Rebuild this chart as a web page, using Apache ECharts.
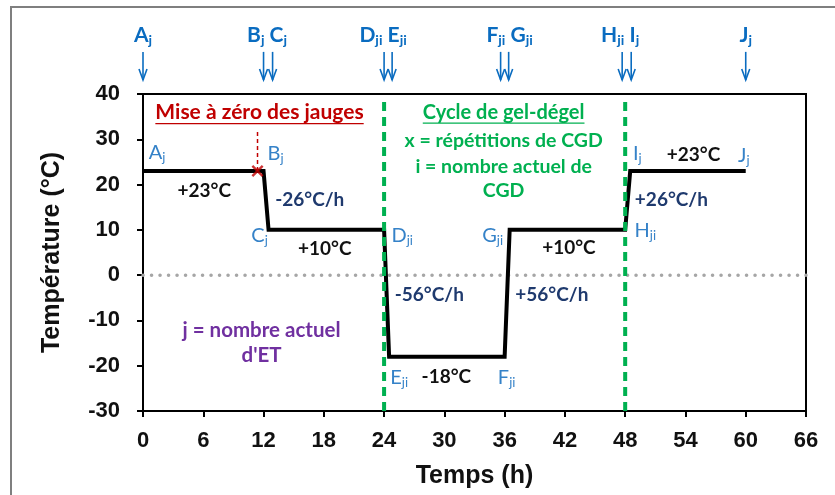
<!DOCTYPE html>
<html><head><meta charset="utf-8">
<script src="https://cdn.jsdelivr.net/npm/echarts@6/dist/echarts.min.js"></script>
<style>html,body{margin:0;padding:0;background:#fff}#c{width:835px;height:495px}</style>
</head><body><div id="c"></div>
<script>
// ---- data ----
const hours = [0, 12, 12.5, 24, 24.5, 36, 36.5, 48, 48.5, 60];
const temps = [23, 23, 10, 10, -18, -18, 10, 10, 23, 23];
const pointNames = ['A', 'B', 'C', 'D', 'E', 'F', 'G', 'H', 'I', 'J'];
const pointSubs = ['j', 'j', 'j', 'ji', 'ji', 'ji', 'ji', 'ji', 'j', 'j'];
const arrowHours = [0, 12, 12.9, 24, 24.8, 35.6, 36.4, 47.7, 48.6, 60];
const gaugeZeroHour = 11.4;
const gaugeZeroTemp = 23;
const gaugeZeroTop = 31.6;
const cycleBounds = [24, 48];
const plateauLabels = ['+23°C', '+10°C', '-18°C', '+10°C', '+23°C'];
const rateLabels = ['-26°C/h', '-56°C/h', '+56°C/h', '+26°C/h'];
const xTicks = [0, 6, 12, 18, 24, 30, 36, 42, 48, 54, 60, 66];
const yTicks = [-30, -20, -10, 0, 10, 20, 30, 40];

// ---- layout / styles ----
const FONT_ANN = 'Lato, "Open Sans", sans-serif';
const FONT_AX = '"Liberation Sans", Arial, sans-serif';
const BLUE_TOP = '#0a6cc0';
const BLUE_PT = '#3582c8';
const NAVY = '#1f3a6e';
const GREEN = '#00b050';
const RED = '#c00000';
const PURPLE = '#7030a0';

const chart = echarts.init(document.getElementById('c'));
const axisCommon = {
  type: 'value',
  axisLine: { show: true, onZero: false, lineStyle: { color: '#000', width: 2 } },
  axisTick: { show: true, inside: false, length: 6, lineStyle: { color: '#000', width: 2 } },
  splitLine: { show: false },
  axisLabel: { color: '#111', fontFamily: FONT_AX, fontWeight: 'bold', fontSize: 22 },
  nameTextStyle: { color: '#111', fontFamily: FONT_AX, fontWeight: 'bold', fontSize: 25 }
};
chart.setOption({
  animation: false,
  grid: { left: 143, right: 29, top: 94, bottom: 84, show: true, borderColor: '#000', borderWidth: 2, backgroundColor: 'transparent' },
  xAxis: Object.assign({}, axisCommon, {
    min: xTicks[0], max: xTicks[xTicks.length - 1], interval: xTicks[1] - xTicks[0],
    name: 'Temps (h)', nameLocation: 'middle', nameGap: 53,
    axisLabel: Object.assign({}, axisCommon.axisLabel, { margin: 19 })
  }),
  yAxis: Object.assign({}, axisCommon, {
    min: yTicks[0], max: yTicks[yTicks.length - 1], interval: yTicks[1] - yTicks[0],
    name: 'Température (°C)', nameLocation: 'middle', nameGap: 78,
    axisLabel: Object.assign({}, axisCommon.axisLabel, { margin: 23 })
  }),
  series: [
    { type: 'line', name: 'zero', data: [[xTicks[0], 0], [xTicks[xTicks.length - 1], 0]], symbol: 'none', z: 1,
      lineStyle: { color: '#a6a6a6', width: 3.5, type: [0.1, 8.4], cap: 'round' } },
    { type: 'line', name: 'temp', data: hours.map((h, i) => [h, temps[i]]), symbol: 'none', z: 3,
      lineStyle: { color: '#000', width: 4, join: 'miter' } },
    { type: 'line', name: 'gauge', data: [[gaugeZeroHour, gaugeZeroTemp], [gaugeZeroHour, gaugeZeroTop]], symbol: 'none', z: 4,
      lineStyle: { color: RED, width: 1.5, type: [4, 3] } },
    { type: 'scatter', name: 'gaugeMark', data: [[gaugeZeroHour, gaugeZeroTemp]], z: 6,
      symbol: 'path://M0,1.4L1.4,0L5,3.6L8.6,0L10,1.4L6.4,5L10,8.6L8.6,10L5,6.4L1.4,10L0,8.6L3.6,5Z',
      symbolSize: 12, itemStyle: { color: RED } },
    ...cycleBounds.map(b => ({ type: 'line', data: [[b, yTicks[0]], [b, 38.6]], symbol: 'none', z: 5,
      lineStyle: { color: GREEN, width: 4, type: [9, 6] } }))
  ]
});

function P(x, y) { return chart.convertToPixel({ gridIndex: 0 }, [x, y]); }
const mctx = document.createElement('canvas').getContext('2d');
function textW(font, t) { mctx.font = font; return mctx.measureText(t).width; }

const g = [];
// outer frame
g.push({ type: 'rect', shape: { x: 11, y: 7, width: 1200, height: 1200 }, style: { fill: 'none', stroke: '#7f7f7f', lineWidth: 2 }, z: 0 });

function subText(text, x, y, color, size, subSize, weight) {
  return {
    type: 'text', x: x, y: y, z: 20,
    style: {
      text: text, align: 'center', verticalAlign: 'middle', fill: color,
      rich: {
        m: { fill: color, fontFamily: FONT_ANN, fontWeight: weight, fontSize: size, lineHeight: size + 4, verticalAlign: 'middle' },
        s: { fill: color, fontFamily: FONT_ANN, fontWeight: weight, fontSize: subSize, lineHeight: subSize, verticalAlign: 'bottom' }
      }
    }
  };
}
function plain(text, x, y, color, size, underline) {
  g.push({ type: 'text', x: x, y: y, z: 20,
    style: { text: text, align: 'center', verticalAlign: 'middle', fill: color, fontFamily: FONT_ANN, fontWeight: 'bold', fontSize: size } });
  if (underline) {
    const w = textW('bold ' + size + 'px ' + FONT_ANN, text);
    g.push({ type: 'line', z: 20, shape: { x1: x - w / 2, y1: y + size * 0.55, x2: x + w / 2, y2: y + size * 0.55 }, style: { stroke: color, lineWidth: 1.4 } });
  }
}

// top arrows
arrowHours.forEach(h => {
  const a = P(h, 49.3), b = P(h, 43.1);
  g.push({ type: 'line', z: 20, shape: { x1: a[0], y1: a[1], x2: b[0], y2: b[1] }, style: { stroke: BLUE_TOP, lineWidth: 1.6 } });
  g.push({ type: 'polyline', z: 20, shape: { points: [[b[0] - 4, b[1] - 11], [b[0], b[1]], [b[0] + 4, b[1] - 11]] }, style: { stroke: BLUE_TOP, lineWidth: 1.6, fill: 'none' } });
});
// top labels (groups of points)
const topGroups = [[[0], 0], [[1, 2], 12.35], [[3, 4], 23.9], [[5, 6], 36.5], [[7, 8], 47.5], [[9], 60]];
topGroups.forEach(([idx, xh]) => {
  const p = P(xh, 53.0);
  const text = idx.map(i => `{m|${pointNames[i]}}{s|${pointSubs[i]}}`).join('{m| }');
  g.push(subText(text, p[0], p[1], BLUE_TOP, 21, 14, 'bold'));
});
// in-plot point labels
const ptLabelPos = [[1.4, 27.1], [13.2, 26.9], [11.6, 8.8], [25.8, 8.8], [25.5, -22.6], [36.2, -22.6], [34.8, 8.8], [50.0, 9.9], [49.2, 26.9], [59.8, 26.5]];
ptLabelPos.forEach((pos, i) => {
  const p = P(pos[0], pos[1]);
  g.push(subText(`{m|${pointNames[i]}}{s|${pointSubs[i]}}`, p[0], p[1], BLUE_PT, 20, 13, 'normal'));
});
// plateau labels
const platPos = [[6.1, 18.7], [18.1, 5.9], [30.2, -22.4], [42.4, 6.1], [54.8, 26.5]];
plateauLabels.forEach((t, i) => { const p = P(platPos[i][0], platPos[i][1]); plain(t, p[0], p[1], '#111', 19); });
const ratePos = [[16.6, 16.7], [28.5, -4.3], [40.7, -4.3], [52.6, 16.7]];
rateLabels.forEach((t, i) => { const p = P(ratePos[i][0], ratePos[i][1]); plain(t, p[0], p[1], NAVY, 19); });
// texts
let p;
p = P(11.6, 36.0); plain('Mise à zéro des jauges', p[0], p[1], RED, 21, true);
p = P(35.9, 36.0); plain('Cycle de gel-dégel', p[0], p[1], GREEN, 20, true);
p = P(35.9, 29.6); plain('x = répétitions de CGD', p[0], p[1], GREEN, 19.5);
p = P(35.9, 24.0); plain('i = nombre actuel de', p[0], p[1], GREEN, 19.5);
p = P(35.9, 18.7); plain('CGD', p[0], p[1], GREEN, 19.5);
p = P(11.8, -12.2); plain('j = nombre actuel', p[0], p[1], PURPLE, 20.5);
p = P(11.8, -17.8); plain("d'ET", p[0], p[1], PURPLE, 20.5);

chart.setOption({ graphic: { elements: g } });
</script></body></html>
